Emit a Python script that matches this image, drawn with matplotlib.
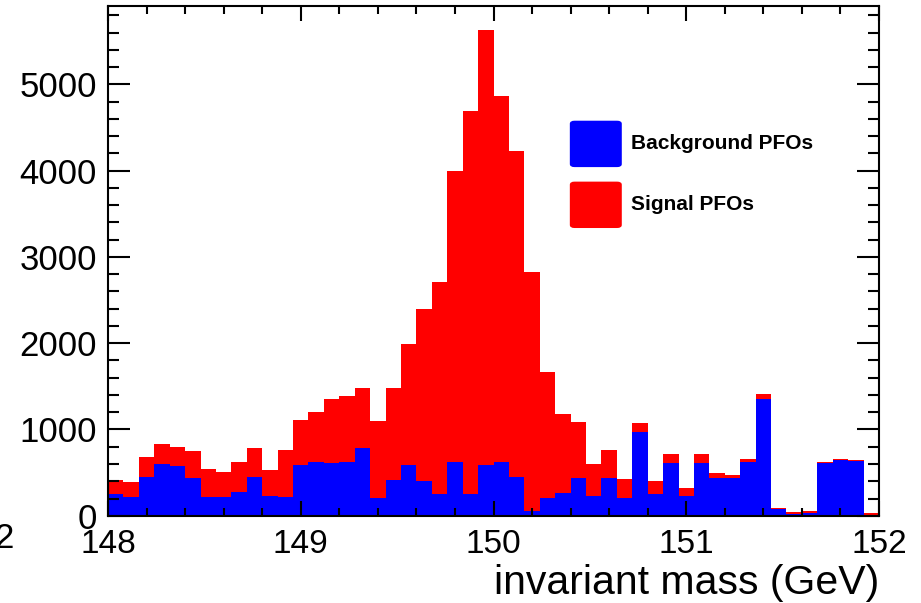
import numpy as np
import matplotlib
matplotlib.use("Agg")
import matplotlib.pyplot as plt
from matplotlib.patches import FancyBboxPatch
from matplotlib.ticker import MultipleLocator

plt.rcParams['font.family'] = ['Liberation Sans', 'DejaVu Sans']

# 50 bins of 0.08 GeV between 148 and 152
edges = np.linspace(148.0, 152.0, 51)

background = [251, 220, 447, 605, 578, 435, 220, 220, 281, 447,
              235, 220, 590, 620, 609, 628, 782, 212, 416, 590,
              405, 254, 620, 254, 590, 620, 447, 61, 212, 262,
              436, 235, 436, 204, 975, 254, 609, 235, 609, 436,
              436, 628, 1352, 77, 25, 30, 617, 647, 640, 0]

signal = [165, 173, 239, 227, 220, 320, 323, 285, 339, 335,
          300, 543, 520, 579, 740, 759, 694, 890, 1060, 1398,
          1996, 2451, 3372, 4440, 5036, 4247, 3776, 2764, 1457, 913,
          654, 366, 327, 220, 104, 154, 104, 92, 104, 57,
          34, 28, 58, 19, 20, 20, 11, 9, 5, 35]

labels = ["Background PFOs", "Signal PFOs"]
colors = ["#0000ff", "#ff0000"]

background = np.array(background)
signal = np.array(signal)
total = background + signal

fig = plt.figure(figsize=(9.21, 6.03), dpi=100)
ax = fig.add_axes([108 / 921, 1 - 515.8 / 603, 771 / 921, 509.8 / 603])

width = np.diff(edges)
ax.bar(edges[:-1], background, width=width, align='edge', color=colors[0], linewidth=0)
ax.bar(edges[:-1], signal, width=width, align='edge', bottom=background,
       color=colors[1], linewidth=0)

ax.set_xlim(148, 152)
ax.set_ylim(0, 1.05 * total.max())

ax.xaxis.set_major_locator(MultipleLocator(1))
ax.xaxis.set_minor_locator(MultipleLocator(0.2))
ax.yaxis.set_major_locator(MultipleLocator(1000))
ax.yaxis.set_minor_locator(MultipleLocator(200))

ax.tick_params(which='both', direction='in', top=True, right=True, width=1.5)
ax.tick_params(axis='x', which='major', length=11, labelsize=24, pad=9.5)
ax.tick_params(axis='x', which='minor', length=5.5)
ax.tick_params(axis='y', which='major', length=16, labelsize=25, pad=8)
ax.tick_params(axis='y', which='minor', length=8)
for s in ax.spines.values():
    s.set_linewidth(1.5)

ax.set_xlabel("invariant mass (GeV)", fontsize=29.5, loc='right', labelpad=3)

# legend boxes with rounded corners
box_y = [0.684, 0.5645]
text_y = [0.731, 0.610]
for lab, col, by, ty in zip(labels, colors, box_y, text_y):
    ax.add_patch(FancyBboxPatch((0.599, by), 0.0674, 0.091,
                                boxstyle="round,pad=0,rounding_size=0.006",
                                transform=ax.transAxes, facecolor=col,
                                edgecolor='none', clip_on=False))
    ax.text(0.678, ty, lab, transform=ax.transAxes, fontsize=15,
            fontweight='bold', va='center', ha='left')

# edge of the neighbouring panel's axis label
fig.text(14 / 921, 1 - 538 / 603, "2", fontsize=25, ha='right', va='center')

fig.savefig("out.png", dpi=100)
